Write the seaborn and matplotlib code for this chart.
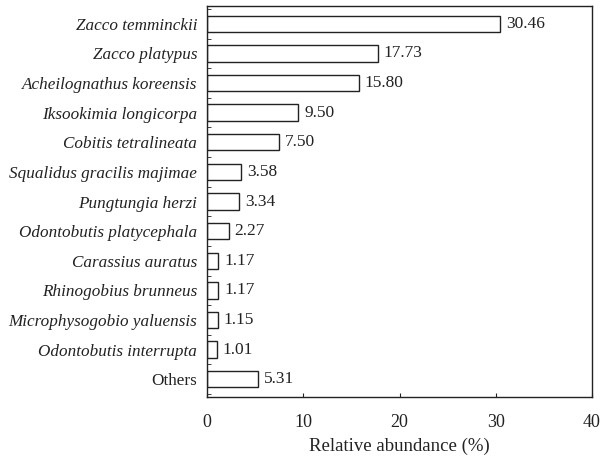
import matplotlib
matplotlib.use("Agg")
import matplotlib.pyplot as plt
import seaborn as sns
import pandas as pd
import numpy as np

species = ["Zacco temminckii", "Zacco platypus", "Acheilognathus koreensis",
           "Iksookimia longicorpa", "Cobitis tetralineata", "Squalidus gracilis majimae",
           "Pungtungia herzi", "Odontobutis platycephala", "Carassius auratus",
           "Rhinogobius brunneus", "Microphysogobio yaluensis", "Odontobutis interrupta",
           "Others"]
abundance = [30.46, 17.73, 15.80, 9.50, 7.50, 3.58, 3.34, 2.27, 1.17, 1.17, 1.15, 1.01, 5.31]
value_labels = ["30.46", "17.73", "15.80", "9.50", "7.50", "3.58", "3.34", "2.27",
                "1.17", "1.17", "1.15", "1.01", "5.31"]
x_ticks = [0, 10, 20, 30, 40]

sns.set_style("ticks")
plt.rcParams["font.family"] = ["Liberation Serif", "DejaVu Serif"]

df = pd.DataFrame({"species": species, "abundance": abundance})

fig = plt.figure(figsize=(6.01, 4.62), dpi=100)
ax = fig.add_axes([207/601, 1-397/462, (592-207)/601, (397-6)/462])

sns.barplot(data=df, y="species", x="abundance", orient="h", ax=ax,
            color="white", edgecolor="#222222", linewidth=1.0, width=0.55,
            saturation=1)

for i, (v, t) in enumerate(zip(abundance, value_labels)):
    ax.text(v + 0.6, i, t, va="center", ha="left", fontsize=12.5, color="#222222")

ax.set_xlim(0, 40)
ax.set_ylim(12.6, -0.6)
ax.set_xticks(x_ticks)
ax.set_xticklabels([str(t) for t in x_ticks], fontsize=13)
ax.tick_params(axis="x", direction="in", length=3, pad=12, colors="#222222")
ax.set_xlabel("Relative abundance (%)", fontsize=13.5, color="#222222", labelpad=5)
ax.set_ylabel("")

ax.set_yticks(range(len(species)))
ax.set_yticklabels(species, fontsize=12.3)
for lbl in ax.get_yticklabels():
    if lbl.get_text() != "Others":
        lbl.set_fontstyle("italic")
ax.tick_params(axis="y", which="major", length=0, pad=7, colors="#222222")
ax.set_yticks(np.arange(-0.5, len(species), 1.0), minor=True)
ax.tick_params(axis="y", which="minor", direction="in", length=3, color="#222222")

for s in ax.spines.values():
    s.set_visible(True)
    s.set_linewidth(1.0)
    s.set_color("#222222")

fig.savefig("out.png", dpi=100)
